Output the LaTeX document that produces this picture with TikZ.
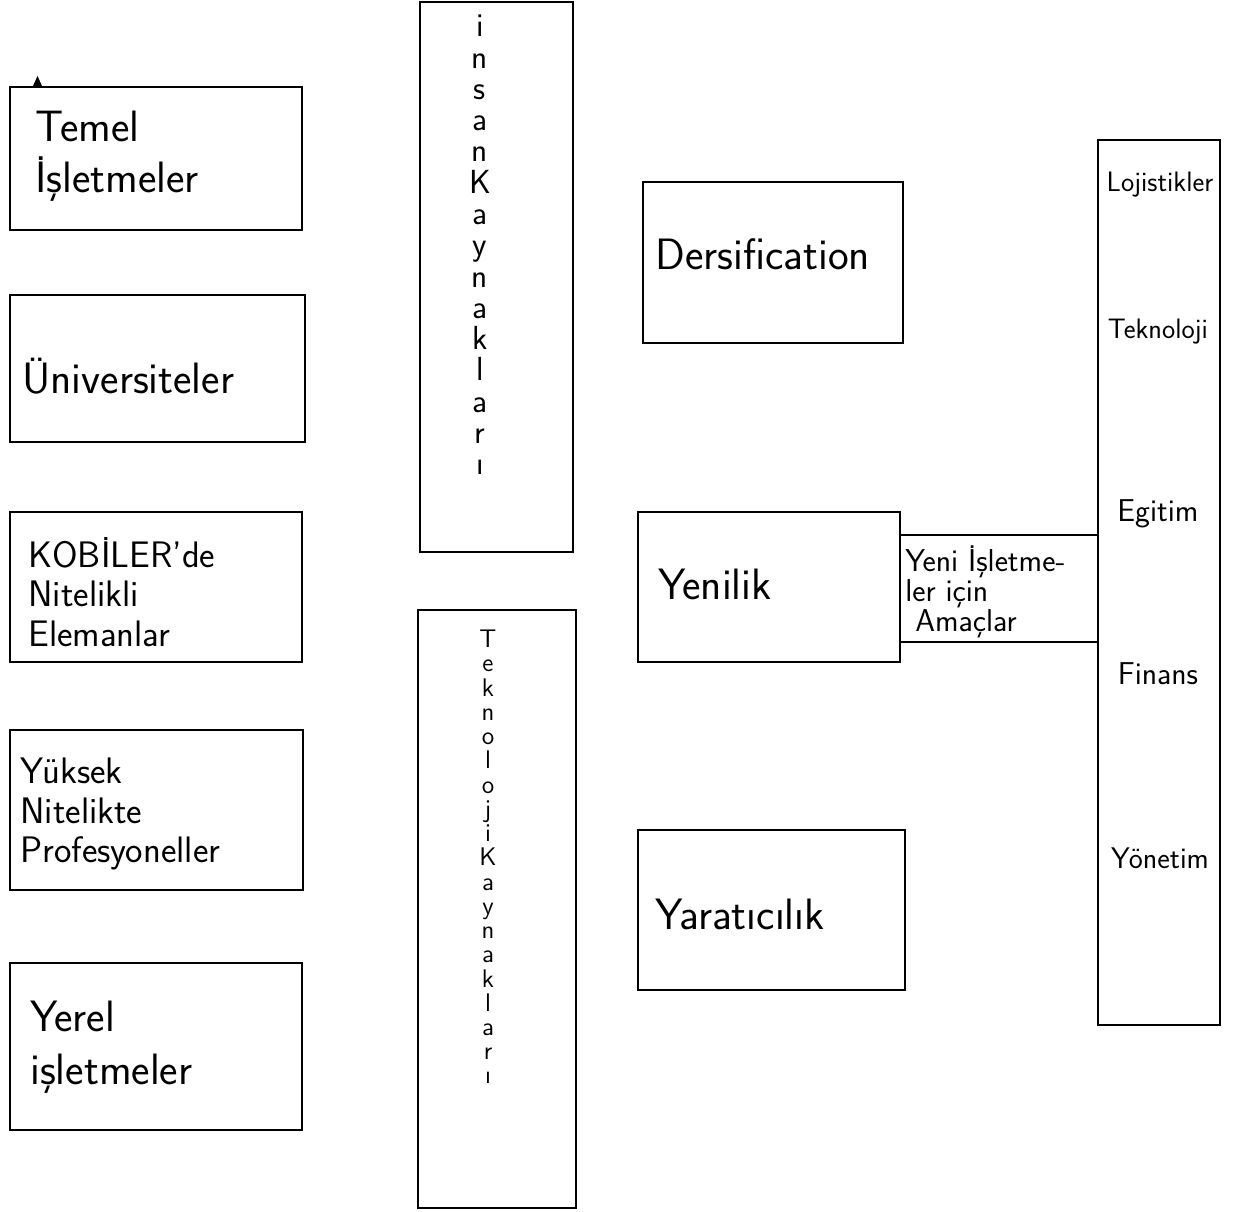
\documentclass[tikz,border=0pt]{standalone}
\usetikzlibrary{fit}
\newcommand\mytightlines{\lineskiplimit=-50pt\relax\lineskip=0pt\relax}
\begin{document}
\begin{tikzpicture}[x=0.02cm,y=-0.02cm,
  box/.style={draw, line width=1.1pt, inner sep=0pt, outer sep=0pt},
  lbl/.style={anchor=west, align=left, inner sep=0pt},
  big/.style={font=\sffamily\fontsize{25}{29}\selectfont},
  mid/.style={font=\sffamily\fontsize{21}{22.5}\selectfont},
  small/.style={font=\sffamily\fontsize{18}{17}\selectfont\mytightlines},
  side/.style={anchor=center, inner sep=0pt, font=\sffamily\fontsize{16}{18}\selectfont},
  stackA/.style={anchor=center, align=center, inner sep=0pt,
    font=\sffamily\fontsize{19}{17.8}\selectfont\mytightlines},
  stackB/.style={anchor=center, align=center, inner sep=0pt,
    font=\sffamily\fontsize{14.5}{13.8}\selectfont\mytightlines}]
\useasboundingbox (0,0) rectangle (1235,1212);

% left column
\node[box, fit={(10,87)(302,230)}] (temel) {};
\node[box, fit={(10,295)(305,442)}] (univ) {};
\node[box, fit={(10,512)(302,662)}] (kobi) {};
\node[box, fit={(10,730)(303,890)}] (yuksek) {};
\node[box, fit={(10,963)(302,1130)}] (yerel) {};
\fill (33,86) -- (37.5,76) -- (42,86) -- cycle;

\node[lbl, big] (ttemel) at (35,156) {Temel\\İşletmeler};
\node[lbl, big] (tuniv) at (22,376) {Üniversiteler};
\node[lbl, mid] (tkobi) at (28,592) {KOBİLER'de\\Nitelikli\\Elemanlar};
\node[lbl, mid] (tyuksek) at (20,814) {Yüksek\\Nitelikte\\Profesyoneller};
\node[lbl, font=\sffamily\fontsize{25}{30}\selectfont] (tyerel) at (30,1047) {Yerel\\işletmeler};

% vertical resources boxes
\node[box, fit={(420,2)(573,552)}] (insan) {};
\node[box, fit={(418,610)(576,1208)}] (tekno) {};
\node[stackA] (tinsan) at (480,245) {i\\n\\s\\a\\n\\K\\a\\y\\n\\a\\k\\l\\a\\r\\ı};
\node[stackB] (ttekno) at (488,857) {T\\e\\k\\n\\o\\l\\o\\j\\i\\K\\a\\y\\n\\a\\k\\l\\a\\r\\ı};

% middle column
\node[box, fit={(643,182)(903,343)}] (ders) {};
\node[box, fit={(638,512)(900,662)}] (yeni) {};
\node[box, fit={(900,535)(1098,642)}] (amac) {};
\node[box, fit={(638,830)(905,990)}] (yarat) {};
\node[lbl, big] (tders) at (655,254) {Dersification};
\node[lbl, big] (tyeni) at (658,584) {Yenilik};
\node[lbl, big] (tyarat) at (655,914) {Yaratıcılık};
\node[lbl, small] (tamac) at (905,592) {Yeni İşletme-\\ler için\\\ Amaçlar};

% right column
\node[box, fit={(1098,140)(1220,1025)}] (sag) {};
\node[side] (lojist) at (1160,185) {Lojistikler};
\node[side] (tekn) at (1158,332) {Teknoloji};
\node[side, font=\sffamily\fontsize{18}{20}\selectfont] (egit) at (1158,514) {Egitim};
\node[side, font=\sffamily\fontsize{18}{20}\selectfont] (finans) at (1158,674) {Finans};
\node[side, font=\sffamily\fontsize{17}{20}\selectfont] (yonet) at (1160,858) {Yönetim};
\end{tikzpicture}
\end{document}
